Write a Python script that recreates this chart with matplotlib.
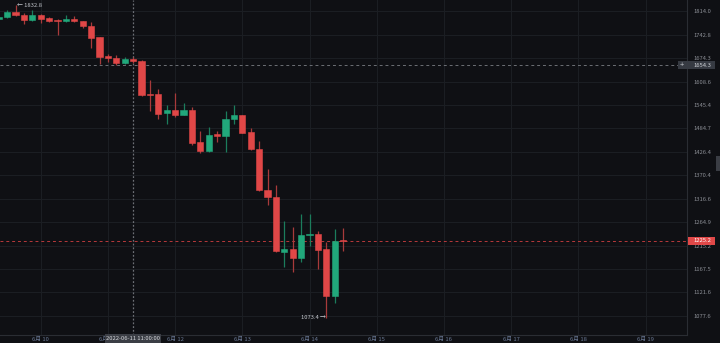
import numpy as np
import pandas as pd
import matplotlib
matplotlib.use("Agg")
import matplotlib.pyplot as plt
import matplotlib.dates as mdates
from matplotlib.patches import Rectangle
from matplotlib.ticker import NullLocator

plt.rcParams['font.family'] = ['Noto Sans CJK SC', 'DejaVu Sans']

# 3 hour candles, first one starts 2022-06-09 09:00
start = "2022-06-09 09:00"
opens = [1791.2, 1795.5, 1811.8, 1802.6, 1787.2, 1802.6, 1792.4, 1787.2, 1783.2, 1790.3,
         1784.1, 1769.8, 1735.0, 1680.5, 1673.9, 1659.6, 1671.0, 1666.2, 1574.5, 1573.9,
         1523.6, 1532.3, 1519.2, 1532.3, 1451.4, 1428.5, 1469.9, 1466.4, 1508.1, 1519.2,
         1474.9, 1432.7, 1336.3, 1321.1, 1202.6, 1207.5, 1189.1, 1236.8, 1239.5, 1207.5,
         1114.9, 1227.0]
highs = [1801.0, 1818.0, 1832.8, 1807.8, 1818.0, 1804.7, 1797.3, 1789.3, 1802.6, 1799.5,
         1784.6, 1780.2, 1736.0, 1686.2, 1682.5, 1678.5, 1676.7, 1669.0, 1612.9, 1588.3,
         1544.6, 1576.6, 1550.7, 1540.9, 1478.2, 1487.6, 1478.2, 1529.6, 1545.4, 1520.0,
         1486.6, 1453.2, 1385.2, 1347.8, 1267.3, 1255.0, 1282.6, 1281.9, 1246.5, 1223.3,
         1249.5, 1252.9]
lows = [1788.7, 1792.4, 1800.5, 1775.9, 1784.1, 1779.0, 1782.0, 1741.9, 1782.0, 1781.1,
        1762.0, 1704.5, 1657.6, 1664.2, 1655.6, 1656.8, 1661.3, 1569.4, 1530.4, 1508.9,
        1496.0, 1514.8, 1518.0, 1443.3, 1424.4, 1426.8, 1450.7, 1426.8, 1495.3, 1472.5,
        1431.0, 1334.5, 1302.5, 1202.0, 1172.2, 1161.6, 1182.2, 1215.0, 1167.0, 1073.4,
        1102.2, 1204.6]
closes = [1797.3, 1812.8, 1801.6, 1787.2, 1802.6, 1791.2, 1785.1, 1783.2, 1790.3, 1783.2,
          1769.8, 1733.9, 1678.5, 1673.9, 1659.6, 1671.0, 1665.3, 1572.0, 1572.5, 1522.6,
          1532.3, 1519.2, 1532.3, 1448.9, 1428.5, 1468.2, 1466.4, 1508.1, 1519.2, 1473.9,
          1432.7, 1336.3, 1321.1, 1204.0, 1207.5, 1190.3, 1237.4, 1239.5, 1206.1, 1114.9,
          1225.4, 1225.2]

price_ticks = [1814.0, 1742.8, 1674.3, 1608.6, 1545.4, 1484.7, 1426.4, 1370.4,
               1316.6, 1264.9, 1215.2, 1167.5, 1121.6, 1077.6]
day_ticks = pd.date_range("2022-06-10", "2022-06-19", freq="D")
day_labels = ["6月 %d" % d.day for d in day_ticks]

max_label = "← 1832.8"
min_label = "1073.4 →"
cross_price = 1654.3
cross_idx = 16
cross_label = "2022-06-11 11:00:00"
last_price = 1225.2

bg = '#0f1014'
up = '#21a87b'
down = '#e04747'
up_wick = '#1b7d5c'
down_wick = '#a83a3b'

W, H = 720, 343
fig = plt.figure(figsize=(W / 100, H / 100), dpi=100, facecolor=bg)
ax = fig.add_axes([0, 8 / H, 687 / W, 335 / H])
ax.set_facecolor(bg)

times = pd.date_range(start, periods=len(opens), freq="3h")
x = mdates.date2num(times)
o = np.array(opens)
c = np.array(closes)
hi = np.array(highs)
lo = np.array(lows)
is_up = c >= o

# wicks then bodies
ax.vlines(x, lo, hi, colors=np.where(is_up, up_wick, down_wick), lw=0.9, zorder=3)
width = 0.125 * 0.74
body_bot = np.minimum(o, c)
body_h = np.abs(c - o)
cols = np.where(is_up, up, down)
ax.bar(x, body_h, width=width, bottom=body_bot, color=cols, edgecolor=cols,
       linewidth=0.4, zorder=4)

ax.set_yscale('log')
ax.set_ylim(1042.7, 1849.4)
d0 = mdates.date2num(pd.Timestamp("2022-06-10"))
ax.set_xlim(d0 - 0.6057, d0 + 9.617)

ax.yaxis.tick_right()
ax.set_yticks(price_ticks)
ax.set_yticklabels(["%.1f" % v for v in price_ticks])
ax.yaxis.set_minor_locator(NullLocator())
ax.set_xticks(mdates.date2num(day_ticks))
ax.set_xticklabels(day_labels)
ax.tick_params(axis='y', length=0, pad=4.3, labelsize=4.2, labelcolor='#8b8e95')
ax.tick_params(axis='x', length=0, pad=1.2, labelsize=4.2, labelcolor='#6b7a96')
ax.grid(True, color='#1b1e23', lw=0.8, zorder=0)
ax.set_axisbelow(True)
for s in ['top', 'left']:
    ax.spines[s].set_visible(False)
for s in ['right', 'bottom']:
    ax.spines[s].set_color('#2a2d33')
    ax.spines[s].set_linewidth(0.8)

# crosshair and last price lines
ax.axhline(cross_price, color='#6c6f75', ls=(0, (3, 3)), lw=0.7, zorder=2)
ax.axvline(x[cross_idx], color='#6c6f75', ls=(0, (1.5, 1.5)), lw=0.9, zorder=2)
ax.axhline(last_price, color='#b8393b', ls=(0, (3, 3)), lw=0.7, zorder=2)

# high / low markers
ax.annotate(max_label, xy=(x[2], highs[2]), xytext=(1.0, 0), textcoords='offset points',
            ha='left', va='center', fontsize=4.2, color='#c3c6cc', zorder=6)
ax.annotate(min_label, xy=(x[39], lows[39]), xytext=(-0.3, 0.6), textcoords='offset points',
            ha='right', va='center', fontsize=4.2, color='#c3c6cc', zorder=6)

fig.canvas.draw()


def ypix(v):
    return ax.transData.transform((0, v))[1]


# price tags on the right axis
yc = ypix(cross_price)
fig.patches.append(Rectangle((677.7 / W, (yc - 4) / H), 37.3 / W, 8 / H,
                             transform=fig.transFigure, fc='#363a42', ec='none', zorder=5))
fig.text(681.5 / W, yc / H, "+", ha='center', va='center', fontsize=5.5, color='#d0d3d8', zorder=6)
fig.text(693 / W, yc / H, "%.1f" % cross_price, ha='left', va='center', fontsize=4.2,
         color='#d0d3d8', zorder=6)

yl = ypix(last_price)
fig.patches.append(Rectangle((687.7 / W, (yl - 4) / H), 27.3 / W, 8 / H,
                             transform=fig.transFigure, fc='#e04848', ec='none', zorder=5))
fig.text(693 / W, yl / H, "%.1f" % last_price, ha='left', va='center', fontsize=4.2,
         color='white', zorder=6)

# time tag under the crosshair
xc = ax.transData.transform((x[cross_idx], 0))[0]
fig.patches.append(Rectangle(((xc - 28) / W, 0), 56 / W, 9 / H,
                             transform=fig.transFigure, fc='#3b3e45', ec='none', zorder=5))
fig.text(xc / W, 4.3 / H, cross_label, ha='center', va='center', fontsize=4.2,
         color='#d6d8dc', zorder=6)

# little scroll handle at the right edge
fig.patches.append(Rectangle((715.5 / W, (H - 171) / H), 4 / W, 15 / H,
                             transform=fig.transFigure, fc='#3a3d44', ec='none', zorder=5))

fig.savefig("out.png", dpi=100, facecolor=bg)
